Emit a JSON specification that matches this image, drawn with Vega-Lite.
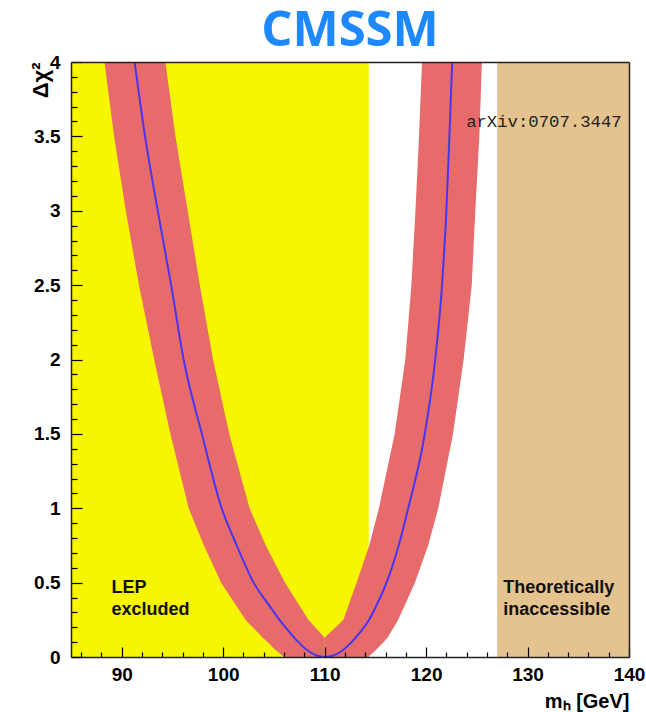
{
  "$schema": "https://vega.github.io/schema/vega-lite/v6.json",
  "autosize": {"type": "none"},
  "padding": {"left": 71, "top": 62, "right": 17, "bottom": 55},
  "width": 558,
  "height": 595,
  "background": "white",
  "config": {
    "view": {"stroke": null},
    "font": "Liberation Sans"
  },
  "title": {
    "text": "CMSSM",
    "font": "Open Sans",
    "fontSize": 49,
    "fontWeight": "bold",
    "color": "#1E88FF",
    "anchor": "middle",
    "frame": "group",
    "baseline": "alphabetic",
    "offset": 15,
    "dy": 57
  },
  "resolve": {"axis": {"x": "independent", "y": "independent"}},
  "datasets": {
    "regions": [
      {"x0": 85, "x1": 114.35, "y0": 0, "y1": 4, "region": "LEP excluded"},
      {"x0": 127, "x1": 140, "y0": 0, "y1": 4, "region": "Theoretically inaccessible"}
    ],
    "band": [
      {"branch": "left", "dchi2": 0, "lo": 106.0, "hi": 110},
      {"branch": "left", "dchi2": 0.05, "lo": 105.1, "hi": 110},
      {"branch": "left", "dchi2": 0.1, "lo": 104.4, "hi": 110},
      {"branch": "left", "dchi2": 0.13, "lo": 103.9, "hi": 110},
      {"branch": "left", "dchi2": 0.25, "lo": 102.2, "hi": 108.4},
      {"branch": "left", "dchi2": 0.5, "lo": 99.8, "hi": 106.1},
      {"branch": "left", "dchi2": 0.75, "lo": 98.1, "hi": 104.2},
      {"branch": "left", "dchi2": 1.0, "lo": 96.6, "hi": 102.6},
      {"branch": "left", "dchi2": 1.5, "lo": 94.8, "hi": 100.6},
      {"branch": "left", "dchi2": 2.0, "lo": 93.2, "hi": 99.0},
      {"branch": "left", "dchi2": 2.5, "lo": 91.7, "hi": 97.7},
      {"branch": "left", "dchi2": 3.0, "lo": 90.4, "hi": 96.5},
      {"branch": "left", "dchi2": 3.5, "lo": 89.25, "hi": 95.3},
      {"branch": "left", "dchi2": 4.0, "lo": 88.3, "hi": 94.3},
      {"branch": "right", "dchi2": 0, "lo": 110, "hi": 114.3},
      {"branch": "right", "dchi2": 0.05, "lo": 110, "hi": 115.1},
      {"branch": "right", "dchi2": 0.1, "lo": 110, "hi": 115.8},
      {"branch": "right", "dchi2": 0.13, "lo": 110, "hi": 116.2},
      {"branch": "right", "dchi2": 0.25, "lo": 111.85, "hi": 117.25},
      {"branch": "right", "dchi2": 0.5, "lo": 113.15, "hi": 118.9},
      {"branch": "right", "dchi2": 0.75, "lo": 114.4, "hi": 120.2},
      {"branch": "right", "dchi2": 1.0, "lo": 115.35, "hi": 121.2},
      {"branch": "right", "dchi2": 1.5, "lo": 116.9, "hi": 122.65},
      {"branch": "right", "dchi2": 2.0, "lo": 117.95, "hi": 123.7},
      {"branch": "right", "dchi2": 2.5, "lo": 118.55, "hi": 124.5},
      {"branch": "right", "dchi2": 3.0, "lo": 118.95, "hi": 124.85},
      {"branch": "right", "dchi2": 3.5, "lo": 119.3, "hi": 125.25},
      {"branch": "right", "dchi2": 4.0, "lo": 119.6, "hi": 125.5}
    ],
    "curve": [
      {"mh": 91.27, "dchi2": 4.0},
      {"mh": 92.3, "dchi2": 3.5},
      {"mh": 93.55, "dchi2": 3.0},
      {"mh": 94.87, "dchi2": 2.5},
      {"mh": 96.1, "dchi2": 2.0},
      {"mh": 97.9, "dchi2": 1.5},
      {"mh": 99.85, "dchi2": 1.0},
      {"mh": 101.34, "dchi2": 0.75},
      {"mh": 103.0, "dchi2": 0.5},
      {"mh": 104.5, "dchi2": 0.35},
      {"mh": 105.55, "dchi2": 0.25},
      {"mh": 106.5, "dchi2": 0.17},
      {"mh": 107.41, "dchi2": 0.1},
      {"mh": 108.4, "dchi2": 0.04},
      {"mh": 109.2, "dchi2": 0.01},
      {"mh": 110.0, "dchi2": 0.0},
      {"mh": 110.85, "dchi2": 0.01},
      {"mh": 111.7, "dchi2": 0.04},
      {"mh": 112.66, "dchi2": 0.1},
      {"mh": 113.55, "dchi2": 0.17},
      {"mh": 114.38, "dchi2": 0.25},
      {"mh": 115.2, "dchi2": 0.36},
      {"mh": 116.1, "dchi2": 0.5},
      {"mh": 117.3, "dchi2": 0.75},
      {"mh": 118.24, "dchi2": 1.0},
      {"mh": 119.87, "dchi2": 1.5},
      {"mh": 120.9, "dchi2": 2.0},
      {"mh": 121.57, "dchi2": 2.5},
      {"mh": 122.0, "dchi2": 3.0},
      {"mh": 122.3, "dchi2": 3.5},
      {"mh": 122.57, "dchi2": 4.0}
    ],
    "notes": [
      {"mh": 89.0, "dchi2": 0.43, "label": "LEP\nexcluded"},
      {"mh": 127.6, "dchi2": 0.43, "label": "Theoretically\ninaccessible"}
    ],
    "ref": [
      {"mh": 139.28, "dchi2": 3.565, "label": "arXiv:0707.3447"}
    ]
  },
  "encoding": {
    "x": {
      "type": "quantitative",
      "scale": {"domain": [85, 140], "nice": false, "zero": false}
    },
    "y": {
      "type": "quantitative",
      "scale": {"domain": [0, 4], "nice": false, "zero": false}
    }
  },
  "layer": [
    {
      "data": {"name": "regions"},
      "mark": {"type": "rect", "clip": true},
      "encoding": {
        "x": {
          "field": "x0",
          "type": "quantitative",
          "title": "mₕ [GeV]",
          "axis": {
            "zindex": 2,
            "values": [86, 88, 90, 92, 94, 96, 98, 100, 102, 104, 106, 108, 110, 112, 114, 116, 118, 120, 122, 124, 126, 128, 130, 132, 134, 136, 138, 140],
            "tickCount": 1000,
            "domain": true,
            "domainColor": "#222",
            "domainWidth": 1.5,
            "grid": false,
            "tickColor": "#000",
            "tickWidth": 1.2,
            "tickSize": {"condition": {"test": "datum.value % 10 === 0", "value": -10}, "value": -5},
            "labelExpr": "datum.value % 10 === 0 ? format(datum.value, 'd') : ''",
            "labelOverlap": false,
            "labelFlush": false,
            "labelPadding": 18,
            "labelFont": "Liberation Sans",
            "labelFontWeight": "bold",
            "labelFontSize": 19,
            "labelColor": "#000",
            "title": "mₕ [GeV]",
            "titleFont": "Liberation Sans",
            "titleFontWeight": "bold",
            "titleFontSize": 20,
            "titleColor": "#000",
            "titleAnchor": "end",
            "titleAlign": "right",
            "titlePadding": 2
          }
        },
        "x2": {"field": "x1"},
        "y": {
          "field": "y0",
          "type": "quantitative",
          "axis": {
            "zindex": 2,
            "values": [0, 0.1, 0.2, 0.3, 0.4, 0.5, 0.6, 0.7, 0.8, 0.9, 1, 1.1, 1.2, 1.3, 1.4, 1.5, 1.6, 1.7, 1.8, 1.9, 2, 2.1, 2.2, 2.3, 2.4, 2.5, 2.6, 2.7, 2.8, 2.9, 3, 3.1, 3.2, 3.3, 3.4, 3.5, 3.6, 3.7, 3.8, 3.9, 4],
            "tickCount": 1000,
            "domain": true,
            "domainColor": "#222",
            "domainWidth": 1.5,
            "grid": false,
            "tickColor": "#000",
            "tickWidth": 1.2,
            "tickSize": {"condition": {"test": "abs(datum.value * 2 - round(datum.value * 2)) < 0.001", "value": -11}, "value": -6},
            "labelExpr": "abs(datum.value * 2 - round(datum.value * 2)) < 0.001 ? format(datum.value, '~g') : ''",
            "labelOverlap": false,
            "labelFlush": false,
            "labelPadding": 22,
            "labelFont": "Liberation Sans",
            "labelFontWeight": "bold",
            "labelFontSize": 19,
            "labelColor": "#000",
            "title": "Δχ²",
            "titleFont": "Liberation Sans",
            "titleFontWeight": "bold",
            "titleFontSize": 22,
            "titleColor": "#000",
            "titleAnchor": "end",
            "titlePadding": -19
          }
        },
        "y2": {"field": "y1"},
        "color": {
          "field": "region",
          "type": "nominal",
          "scale": {"domain": ["LEP excluded", "Theoretically inaccessible"], "range": ["#F6F600", "#E5C38E"]},
          "legend": null
        }
      }
    },
    {
      "data": {"name": "band"},
      "mark": {"type": "area", "orient": "horizontal", "color": "#E76B6B", "opacity": 1, "clip": true},
      "encoding": {
        "y": {"field": "dchi2", "type": "quantitative", "axis": null},
        "x": {"field": "lo", "type": "quantitative", "axis": null},
        "x2": {"field": "hi"},
        "detail": {"field": "branch", "type": "nominal"}
      }
    },
    {
      "data": {"name": "curve"},
      "mark": {"type": "line", "color": "#4636F0", "strokeWidth": 2, "clip": true, "interpolate": "monotone"},
      "encoding": {
        "x": {
          "field": "mh",
          "type": "quantitative",
          "axis": {"orient": "top", "labels": false, "ticks": false, "grid": false, "domain": true, "domainColor": "#222", "domainWidth": 1.5, "title": null, "zindex": 3}
        },
        "y": {
          "field": "dchi2",
          "type": "quantitative",
          "axis": {"orient": "right", "labels": false, "ticks": false, "grid": false, "domain": true, "domainColor": "#222", "domainWidth": 1.5, "title": null, "zindex": 3}
        }
      }
    },
    {
      "data": {"name": "notes"},
      "mark": {"type": "text", "align": "left", "baseline": "alphabetic", "font": "Liberation Sans", "fontWeight": "bold", "fontSize": 18, "lineBreak": "\n", "lineHeight": 21.5, "color": "#111"},
      "encoding": {
        "x": {"field": "mh", "type": "quantitative", "axis": null},
        "y": {"field": "dchi2", "type": "quantitative", "axis": null},
        "text": {"field": "label", "type": "nominal"}
      }
    },
    {
      "data": {"name": "ref"},
      "mark": {"type": "text", "align": "right", "baseline": "alphabetic", "font": "Liberation Mono", "fontSize": 17.3, "color": "#222"},
      "encoding": {
        "x": {"field": "mh", "type": "quantitative", "axis": null},
        "y": {"field": "dchi2", "type": "quantitative", "axis": null},
        "text": {"field": "label", "type": "nominal"}
      }
    }
  ]
}
